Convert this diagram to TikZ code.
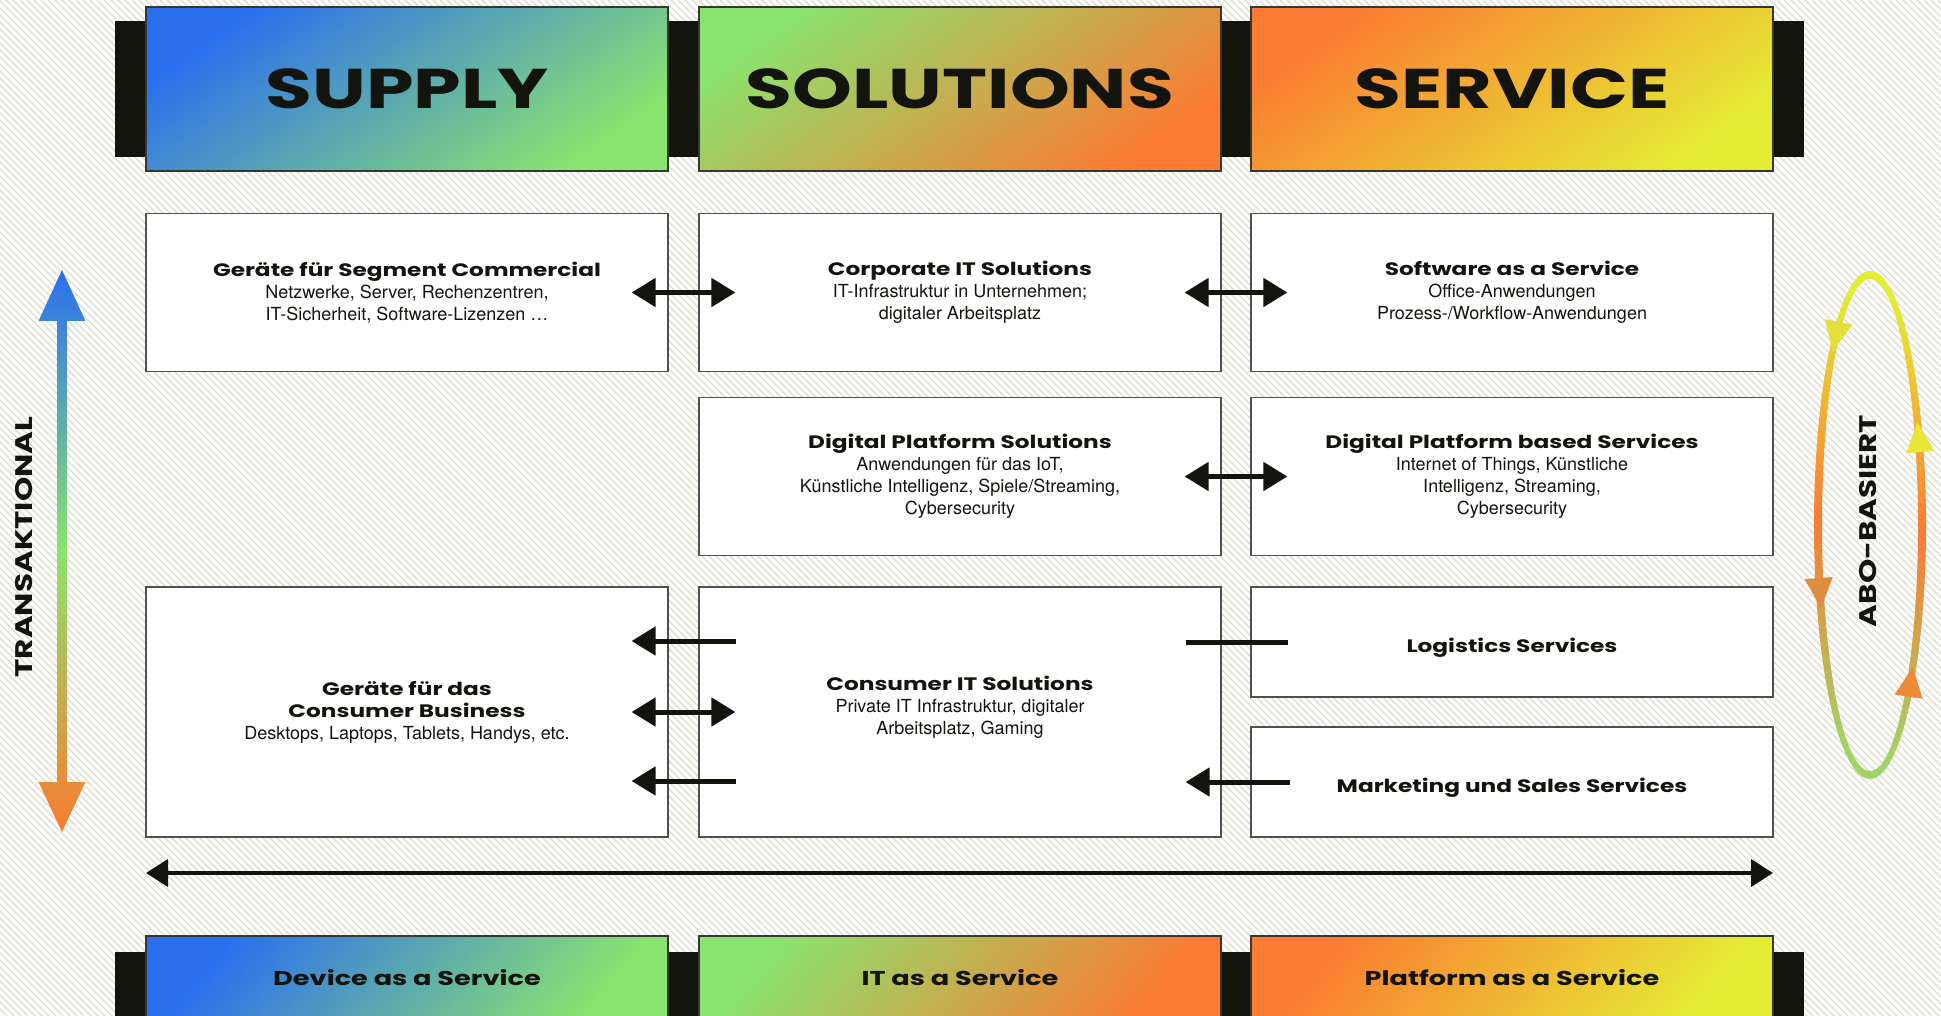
\documentclass[tikz,border=0pt]{standalone}
\usepackage{fontspec}
\setmainfont{TeX Gyre Heros}
\newfontfamily\widefont{Poppins}[FakeStretch=1.29]
\newfontfamily\hdrfont{Poppins}[FakeStretch=1.36]
\usetikzlibrary{arrows.meta}
\definecolor{ink}{HTML}{14140E}
\definecolor{cblue}{HTML}{2B6FEF}
\definecolor{cgreen}{HTML}{8BE36F}
\definecolor{corange}{HTML}{FB7B32}
\definecolor{cyellow}{HTML}{E5EC34}
\definecolor{lgreen}{HTML}{A0D468}
\definecolor{tipA}{HTML}{E6DE3A}
\definecolor{tipB}{HTML}{DE8C40}
\definecolor{tipC}{HTML}{E8E636}
\definecolor{tipD}{HTML}{EC8A38}
\definecolor{hatch}{HTML}{DCDCCC}
\definecolor{frame}{HTML}{505050}
\tikzset{
	head/.style={draw=ink!85, line width=1.2pt, minimum width=522pt, minimum height=164pt, inner sep=0pt, text=ink, font=\hdrfont\bfseries\fontsize{56}{60}\selectfont},
	foot/.style={head, minimum height=84pt, font=\hdrfont\bfseries\fontsize{20}{24}\selectfont},
	card/.style={draw=frame, fill=white, line width=1.2pt, minimum width=522pt, minimum height=158pt, inner sep=0pt, align=center, text=ink, font=\fontsize{18}{22}\selectfont},
	side/.style={rotate=90, text=ink, font=\widefont\bfseries\fontsize{24}{28}\selectfont},
	link/.style={line width=5pt, ink},
	tip/.style={-{Triangle[length=24pt,width=28pt]}},
	tips/.style={{Triangle[length=24pt,width=28pt]}-{Triangle[length=24pt,width=28pt]}},
	ringtip/.style={line width=0.1pt, -{Triangle[length=30pt,width=28pt]}},
	oneline/.style={text height=21pt, text depth=0pt},
}
\newcommand{\ttl}[1]{{\widefont\bfseries\fontsize{18}{22}\selectfont #1}}
\begin{document}
\begin{tikzpicture}[x=1pt, y=-1pt]
	\useasboundingbox (0,0) rectangle (1941,1016);
	\fill[white] (0,0) rectangle (1941,1016);
	\begin{scope}
		\clip (0,0) rectangle (1941,1016);
		\foreach \s in {-1016,-1009,...,1941}
			\draw[hatch, line width=1.1pt] (\s,0) -- ++(1016,1016);
		\fill[ink] (115,21) rectangle (1804,157);
		\fill[ink] (115,952) rectangle (1804,1030);

		\node[head, left color=cblue, right color=cgreen, shading angle=35] (supply) at (407,89) {SUPPLY};
		\node[head, left color=cgreen, right color=corange, shading angle=35] (solutions) at (960,89) {SOLUTIONS};
		\node[head, left color=corange, right color=cyellow, shading angle=35] (service) at (1512,89) {SERVICE};

		\node[foot, left color=cblue, right color=cgreen, shading angle=50] (daas) at (407,978) {Device as a Service};
		\node[foot, left color=cgreen, right color=corange, shading angle=50] (itaas) at (960,978) {IT as a Service};
		\node[foot, left color=corange, right color=cyellow, shading angle=50] (paas) at (1512,978) {Platform as a Service};
	\end{scope}

	\node[card] (seg) at (407,292.5) {\ttl{Geräte für Segment Commercial}\\Netzwerke, Server, Rechenzentren,\\IT-Sicherheit, Software-Lizenzen …};
	\node[card] (corp) at (960,292.5) {\ttl{Corporate IT Solutions}\\IT-Infrastruktur in Unternehmen;\\digitaler Arbeitsplatz};
	\node[card] (saas) at (1512,292.5) {\ttl{Software as a Service}\\Office-Anwendungen\\Prozess-/Workflow-Anwendungen};
	\node[card] (dps) at (960,476.5) {\ttl{Digital Platform Solutions}\\Anwendungen für das IoT,\\Künstliche Intelligenz, Spiele/Streaming,\\Cybersecurity};
	\node[card] (dpbs) at (1512,476.5) {\ttl{Digital Platform based Services}\\Internet of Things, Künstliche\\Intelligenz, Streaming,\\Cybersecurity};
	\node[card, minimum height=250pt] (cons) at (407,712) {\ttl{Geräte für das}\\\ttl{Consumer Business}\\Desktops, Laptops, Tablets, Handys, etc.};
	\node[card, minimum height=250pt, text depth=14pt] (cit) at (960,712) {\ttl{Consumer IT Solutions}\\Private IT Infrastruktur, digitaler\\Arbeitsplatz, Gaming};
	\node[card, minimum height=110pt, oneline] (logi) at (1512,642) {\ttl{Logistics Services}};
	\node[card, minimum height=110pt, oneline] (mark) at (1512,782) {\ttl{Marketing und Sales Services}};

	\draw[link, tips] ([xshift=-37]seg.east) -- ([xshift=37]corp.west);
	\draw[link, tips] ([xshift=-37]corp.east) -- ([xshift=37]saas.west);
	\draw[link, tips] ([xshift=-37]dps.east) -- ([xshift=37]dpbs.west);
	\draw[link, tip] ([xshift=38,yshift=71]cit.west) -- ([xshift=-37,yshift=71]cons.east);
	\draw[link, tips] ([xshift=-37]cons.east) -- ([xshift=37]cit.west);
	\draw[link, tip] ([xshift=38,yshift=-69]cit.west) -- ([xshift=-37,yshift=-69]cons.east);
	\draw[link] ([xshift=-36,yshift=70]cit.east) -- ([xshift=38]logi.west);
	\draw[link, tip] ([xshift=40]mark.west) -- ([xshift=-36,yshift=-70]cit.east);

	\coordinate (scaleL) at (146,873);
	\coordinate (scaleR) at (1773,873);
	\draw[line width=4pt, ink, {Triangle[length=22pt,width=27pt]}-{Triangle[length=22pt,width=27pt]}] (scaleL) -- (scaleR);

	\shade[top color=cblue, bottom color=corange, middle color=cgreen] (62,270) -- (85.5,321) -- (67,321) -- (67,782) -- (85.5,782) -- (62,832) -- (38.5,782) -- (57,782) -- (57,321) -- (38.5,321) -- cycle;
	\node[side] (trans) at (24,547) {TRANSAKTIONAL};

	\coordinate (ring) at (1870,525);
	\shade[even odd rule, top color=cyellow, bottom color=lgreen, middle color=corange, shading angle=-8] (ring) ellipse [x radius=56, y radius=254] (ring) ellipse [x radius=48, y radius=246];
	\draw[ringtip, tipA] (ring) ++(240:52 and 250) arc[start angle=240, end angle=224, x radius=52, y radius=250];
	\draw[ringtip, tipB] (ring) ++(175:52 and 250) arc[start angle=175, end angle=160.6, x radius=52, y radius=250];
	\draw[ringtip, tipC] (ring) ++(-5:52 and 250) arc[start angle=-5, end angle=-24.3, x radius=52, y radius=250];
	\draw[ringtip, tipD] (ring) ++(50:52 and 250) arc[start angle=50, end angle=34.6, x radius=52, y radius=250];
	\node[side] (abo) at (1868,521) {ABO-BASIERT};
\end{tikzpicture}
\end{document}
